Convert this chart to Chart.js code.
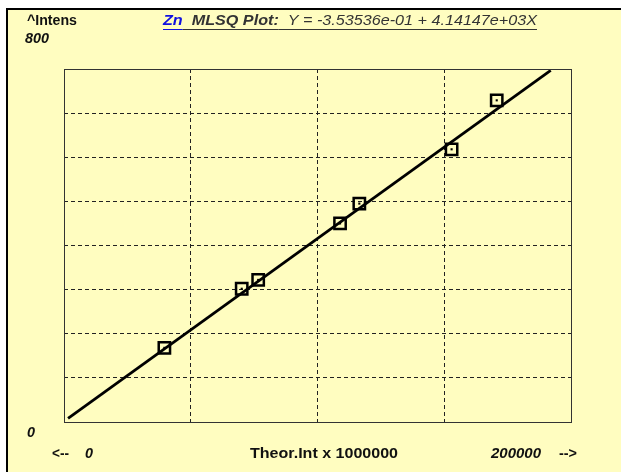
<!DOCTYPE html>
<html>
<head>
<meta charset="utf-8">
<script src="https://cdn.jsdelivr.net/npm/chart.js@4.4.0/dist/chart.umd.min.js"></script>
<style>
html,body{margin:0;padding:0;background:#fff;}
canvas{display:block;}
</style>
</head>
<body>
<canvas id="c" width="621" height="472"></canvas>
<script>
// Data
const xTicks = [0, 50000, 100000, 150000, 200000];
const yTicks = [0, 100, 200, 300, 400, 500, 600, 700, 800];
const pointX = [39600, 70100, 76600, 108900, 116500, 152900, 170700];
const pointY = [168, 302, 322, 450, 495, 618, 729];
const lineX = [1600, 192000];
const lineY = [8, 797];
const titleParts = ["Zn", "  MLSQ Plot:", "  Y = -3.53536e-01 + 4.14147e+03X"];
const yAxisLabel = "^Intens";
const yMaxLabel = "800";
const yMinLabel = "0";
const xLabels = ["<--", "0", "Theor.Int x 1000000", "200000", "-->"];

const BG = "rgb(255,253,192)";
const FONT = "'Liberation Sans', Arial, sans-serif";

const pts = pointX.map((x, i) => ({x: x, y: pointY[i]}));
const linePts = lineX.map((x, i) => ({x: x, y: lineY[i]}));

function fitText(ctx, txt, x, y, width) {
  // draw text scaled horizontally to a given width
  const w = ctx.measureText(txt).width;
  ctx.save();
  ctx.translate(x, y);
  ctx.scale(width / w, 1);
  ctx.fillText(txt, 0, 0);
  ctx.restore();
  return width;
}

const deco = {
  id: 'deco',
  beforeDraw(chart) {
    const ctx = chart.ctx;
    ctx.save();
    ctx.fillStyle = '#fff';
    ctx.fillRect(0, 0, chart.width, chart.height);
    ctx.fillStyle = BG;
    ctx.fillRect(6, 8, chart.width - 6, chart.height - 8);
    ctx.fillStyle = '#000';
    ctx.fillRect(6, 8, chart.width - 6, 2);
    ctx.fillRect(6, 8, 2, chart.height - 8);
    ctx.restore();
  },
  afterDraw(chart) {
    const ctx = chart.ctx;
    const a = chart.chartArea;
    ctx.save();
    ctx.strokeStyle = '#333';
    ctx.lineWidth = 1;
    ctx.setLineDash([]);
    ctx.strokeRect(Math.round(a.left) + 0.5, Math.round(a.top) + 0.5,
      Math.round(a.right - a.left), Math.round(a.bottom - a.top));

    ctx.textBaseline = 'middle';
    ctx.textAlign = 'left';
    ctx.fillStyle = '#111';
    ctx.font = "bold 14px " + FONT;
    fitText(ctx, yAxisLabel, 27, 21, 50);
    ctx.font = "italic bold 14px " + FONT;
    fitText(ctx, yMaxLabel, 25, 39, 24);
    fitText(ctx, yMinLabel, 27, 433, 8);

    // title
    const tx0 = 163, tx1 = 537, ty = 21;
    const fonts = ["italic bold 14px " + FONT, "italic bold 14px " + FONT, "italic 14px " + FONT];
    const cols = ["#1010e0", "#333", "#333"];
    let total = 0;
    const ws = titleParts.map((t, i) => { ctx.font = fonts[i]; const w = ctx.measureText(t).width; total += w; return w; });
    const k = (tx1 - tx0) / total;
    let x = tx0;
    for (let i = 0; i < titleParts.length; i++) {
      ctx.font = fonts[i];
      ctx.fillStyle = cols[i];
      fitText(ctx, titleParts[i], x, ty, ws[i] * k);
      ctx.fillRect(x, ty + 8, ws[i] * k, 1);
      x += ws[i] * k;
    }

    // bottom labels
    const by = 454;
    ctx.fillStyle = '#111';
    ctx.font = "bold 14px " + FONT;
    fitText(ctx, xLabels[0], 52, by, 17);
    ctx.font = "italic bold 14px " + FONT;
    fitText(ctx, xLabels[1], 85, by, 8);
    ctx.font = "bold 14px " + FONT;
    fitText(ctx, xLabels[2], 250, by, 148);
    ctx.font = "italic bold 14px " + FONT;
    fitText(ctx, xLabels[3], 491, by, 50);
    ctx.font = "bold 14px " + FONT;
    fitText(ctx, xLabels[4], 559, by, 18);
    ctx.restore();
  }
};

new Chart(document.getElementById('c'), {
  type: 'scatter',
  data: {
    datasets: [
      {
        type: 'line',
        data: linePts,
        borderColor: '#000',
        borderWidth: 2.8,
        pointRadius: 0,
        fill: false,
        order: 3
      },
      {
        data: pts,
        pointStyle: 'rect',
        pointRadius: 8,
        pointHoverRadius: 8,
        borderColor: '#000',
        borderWidth: 2.5,
        backgroundColor: 'rgba(0,0,0,0)',
        order: 1
      },
      {
        data: pts,
        pointStyle: 'rect',
        pointRadius: 1.5,
        borderWidth: 0,
        backgroundColor: '#000',
        order: 2
      }
    ]
  },
  options: {
    responsive: false,
    animation: false,
    events: [],
    layout: {padding: {left: 64, top: 69, right: 50, bottom: 50}},
    plugins: {legend: {display: false}, tooltip: {enabled: false}, title: {display: false}},
    scales: {
      x: {
        type: 'linear', min: xTicks[0], max: xTicks[xTicks.length - 1],
        afterBuildTicks(s) { s.ticks = xTicks.map(v => ({value: v})); },
        ticks: {display: false},
        grid: {color: '#222', lineWidth: 1, drawTicks: false, tickLength: 0},
        border: {display: false, dash: [4, 3]}
      },
      y: {
        type: 'linear', min: yTicks[0], max: yTicks[yTicks.length - 1],
        afterBuildTicks(s) { s.ticks = yTicks.map(v => ({value: v})); },
        ticks: {display: false},
        grid: {color: '#222', lineWidth: 1, drawTicks: false, tickLength: 0},
        border: {display: false, dash: [4, 3]}
      }
    }
  },
  plugins: [deco]
});
</script>
</body>
</html>
